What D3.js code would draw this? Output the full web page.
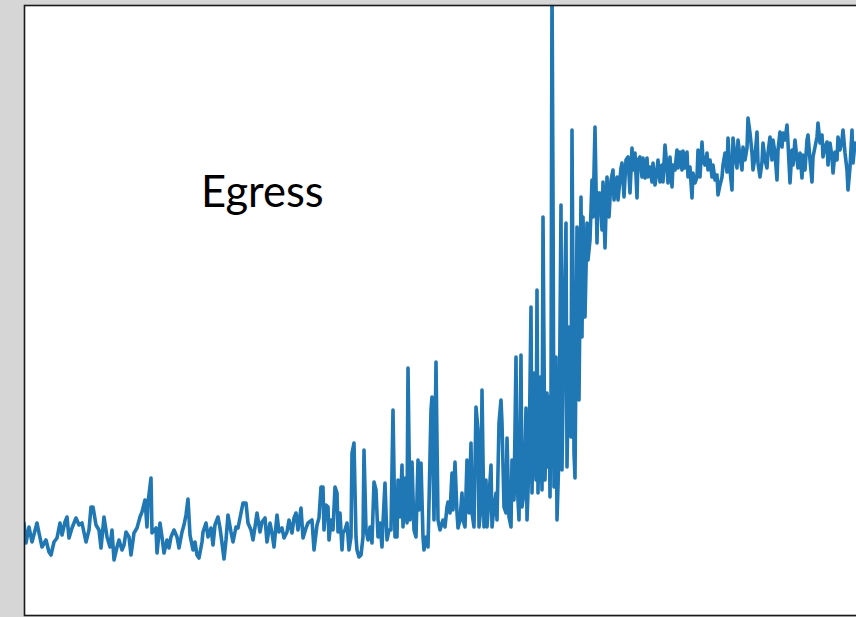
<!DOCTYPE html>
<html>
<head>
<meta charset="utf-8">
<script src="https://cdn.jsdelivr.net/npm/d3@7"></script>
<style>
  html, body { margin: 0; padding: 0; background: #d6d6d6; }
  svg { display: block; }
</style>
</head>
<body>
<svg id="chart" width="856" height="617"></svg>
<script>
// Sample times (relative units) and egress level readings, in segments.
const sampleTime = [
  0,2,5,8,13,15,18,22,25,27,30,33,36,38,41,43,45,48,52,55,
  58,62,65,67,69,72,75,77,80,83,86,88,90,93,95,98,100,102,105,107,
  110,113,116,118,121,123,124,127,128,132,133,136,138,140,143,145,147,150,
  153,155,158,160,162,164,166,169,171,173,175,178,179,182,184,187,189,191,194,196,
  198,200,202,204,207,209,212,214,217,219,222,224,227,229,231,233,236,238,241,243,
  246,248,250,253,255,258,260,263,265,268,270,272,274,277,279,282,284,288,290,293,295,
  297,299,300,302,304,305,307,309,311,313,314,316,318,319,321,323,325,327,328,330,
  332,333,335,337,339,340,342,344,346,348,350,352,354,356,358,359,361,363,365,367,
  369,371,373,374,376,378,379,381,383,384,386,388,390,392,394,395,397,399,400,402,
  404,405,407,408,410,412,414,416,
  419,421,423,424,426,428,429,431,433,434,436,438,439,441,443,445,447,448,450,452,
  454,455,457,458,460,462,463,465,467,468,470,472,473,475,477,478,480,482,483,485,
  487,488,490,492,493,495,497,498,500,502,503,505,507,508,510,512,513,514,516,518,
  519,521,523,524,
  525,526,527,528,529,530,532,533,535,537,538,540,542,543,545,547,548,550,551,553,
  555,557,558,559,561,563,564,566,568,569,571,573,574,
  576,578,579,581,583,585,587,589,590,593,594,597,598,600,602,604,606,608,609,611,
  613,614,616,618,619,621,623,624,626,628,629,631,633,634,636,638,639,641,643,644,
  646,648,649,651,653,654,656,658,659,661,663,664,666,668,669,671,673,674,676,678,
  679,681,683,684,686,688,689,691,693,694,696,698,699,701,703,704,706,708,709,711,
  713,714,716,718,719,721,723,724,726,728,729,731,733,734,736,738,739,741,743,744,
  746,748,749,751,753,754,756,758,759,761,763,764,766,768,769,771,773,774,776,778,
  779,781,783,784,786,788,789,791,793,794,796,798,799,801,803,804,806,808,809,811,
  813,814,816,818,819,821,823,824,826,828,829,831
];

const egress = [
  94,74,90,75,94,84,70,77,65,62,75,79,94,82,95,100,79,89,99,92,
  94,75,87,110,110,92,87,69,100,80,70,87,57,70,77,67,72,85,80,62,
  84,89,100,105,117,90,114,139,84,89,64,94,80,64,77,69,80,87,
  80,69,85,92,102,118,82,67,75,62,59,75,85,94,80,89,72,92,100,89,
  74,58,77,102,85,75,90,89,104,114,114,94,87,77,90,104,85,95,99,75,
  94,84,70,102,85,89,79,85,97,84,99,104,87,109,79,89,94,97,67,92,99,
  130,130,87,112,110,77,97,87,130,124,85,104,67,84,87,94,67,80,164,174,
  80,67,60,62,80,167,87,77,90,74,135,127,80,94,70,94,134,77,87,87,
  207,80,80,137,100,152,90,139,94,249,97,155,87,80,157,107,154,80,67,80,
  70,114,207,220,97,255,97,87,
  97,90,110,115,104,144,107,155,104,89,97,124,97,90,157,104,174,104,90,210,
  187,90,110,227,90,137,90,120,152,90,110,124,97,194,217,194,110,104,179,100,
  90,157,117,260,137,97,262,110,124,209,97,154,310,124,244,137,327,124,240,127,
  400,137,224,150,
  220,120,214,640,425,130,260,97,164,412,147,297,394,150,290,180,487,164,139,390,
  217,420,280,400,300,394,357,377,437,400,490,374,424,
  424,387,435,369,440,400,437,447,417,440,417,449,454,420,457,460,424,469,447,464,
  419,457,460,440,459,439,459,440,450,435,454,432,447,457,435,452,435,472,449,434,
  460,430,452,447,467,449,465,447,466,449,465,440,450,419,444,434,440,467,440,475,
  457,452,464,447,457,440,452,437,442,422,432,440,452,464,445,479,447,427,479,460,
  449,477,460,447,470,457,469,499,484,464,447,460,485,454,440,455,474,457,449,464,
  480,457,477,464,437,467,485,470,484,477,492,474,434,467,452,477,457,449,464,439,
  462,447,477,482,457,435,460,470,480,494,474,482,460,470,475,452,474,460,444,465,
  457,480,467,477,487,464,447,427,450,487,454,474
];

const title = "Egress";

const svg = d3.select("#chart");
const plot = { left: 24.5, top: 5.5, right: 870, bottom: 615.5 };

const x = d3.scaleLinear().domain([0, 832]).range([24, 856]);
const y = d3.scaleLinear().domain([0, 612]).range([617, 5]);

const series = d3.zip(sampleTime, egress);

// white plotting panel
svg.append("rect")
  .attr("x", plot.left).attr("y", plot.top)
  .attr("width", plot.right - plot.left).attr("height", plot.bottom - plot.top)
  .attr("fill", "#ffffff");

svg.append("clipPath").attr("id", "panel-clip")
  .append("rect")
  .attr("x", plot.left).attr("y", plot.top)
  .attr("width", plot.right - plot.left).attr("height", plot.bottom - plot.top);

const line = d3.line()
  .x(d => x(d[0]))
  .y(d => y(d[1]));

svg.append("path")
  .datum(series)
  .attr("clip-path", "url(#panel-clip)")
  .attr("d", line)
  .attr("fill", "none")
  .attr("stroke", "#1f77b4")
  .attr("stroke-width", 3.6)
  .attr("stroke-linejoin", "round")
  .attr("stroke-linecap", "round");

// panel frame
svg.append("rect")
  .attr("x", plot.left).attr("y", plot.top)
  .attr("width", plot.right - plot.left).attr("height", plot.bottom - plot.top)
  .attr("fill", "none")
  .attr("stroke", "#1a1a1a")
  .attr("stroke-width", 1.6);

svg.append("text")
  .attr("x", 201)
  .attr("y", 207)
  .attr("font-family", "'Gill Sans', Lato, 'Open Sans', sans-serif")
  .attr("font-size", 43.5)
  .attr("fill", "#000")
  .text(title);
</script>
</body>
</html>
